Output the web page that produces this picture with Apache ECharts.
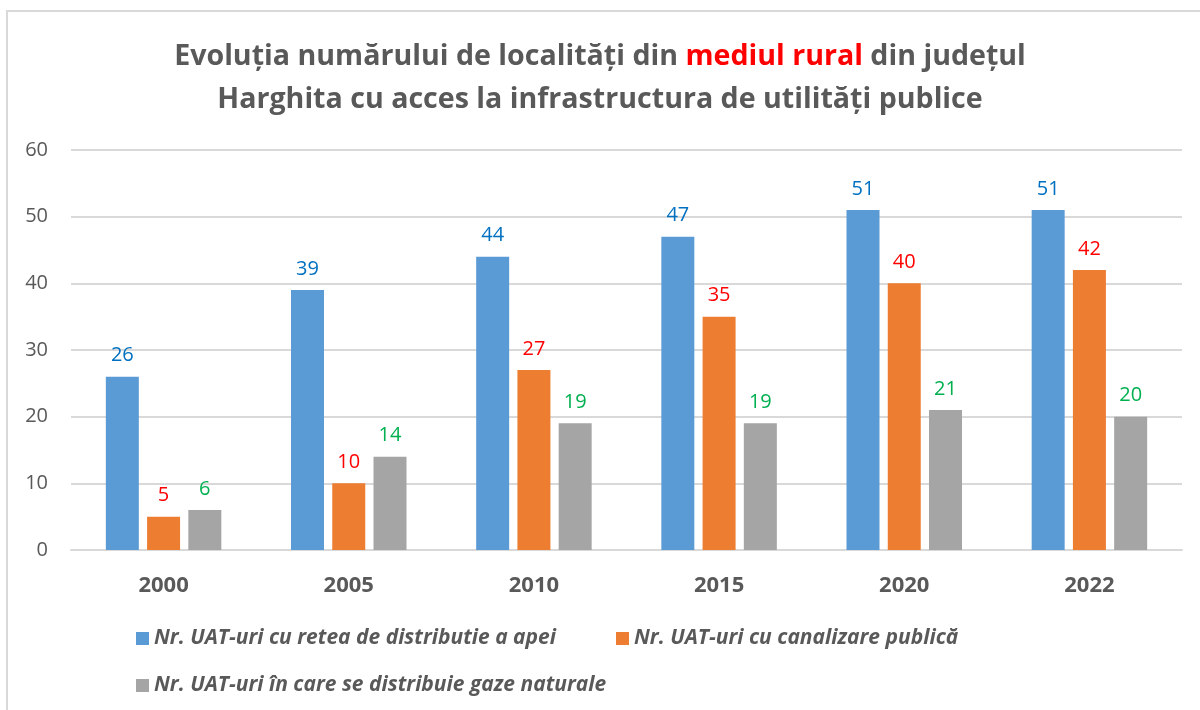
<!DOCTYPE html>
<html>
<head>
<meta charset="utf-8">
<script src="https://cdn.jsdelivr.net/npm/echarts@6/dist/echarts.min.js"></script>
<style>
  html, body { margin: 0; padding: 0; background: #fff; }
  #chart { width: 1200px; height: 710px; }
</style>
</head>
<body>
<div id="chart"></div>
<script>
var years = ['2000', '2005', '2010', '2015', '2020', '2022'];
var seriesNames = [
    'Nr. UAT-uri cu retea de distributie a apei',
    'Nr. UAT-uri cu canalizare publică',
    'Nr. UAT-uri în care se distribuie gaze naturale'
];
var apa = [26, 39, 44, 47, 51, 51];
var canalizare = [5, 10, 27, 35, 40, 42];
var gaze = [6, 14, 19, 19, 21, 20];
var yTicks = { min: 0, max: 60, interval: 10 };

var barColors = ['#5b9bd5', '#ed7d31', '#a5a5a5'];
var labelColors = ['#0070c0', '#ff0000', '#00b050'];
var font = '"Open Sans", sans-serif';

function makeBar(i, values) {
    return {
        name: seriesNames[i],
        type: 'bar',
        data: values,
        barWidth: 33,
        barGap: '25%',
        itemStyle: { color: barColors[i] },
        label: {
            show: true,
            position: 'top',
            distance: 11,
            color: labelColors[i],
            fontSize: 20,
            fontFamily: font
        }
    };
}

var legendText = { fontSize: 21, fontStyle: 'italic', fontWeight: 'bold', color: '#595959', fontFamily: font };

var chart = echarts.init(document.getElementById('chart'));
chart.setOption({
    animation: false,
    backgroundColor: '#fff',
    graphic: [{
        type: 'rect',
        shape: { x: 7, y: 11, width: 1300, height: 800 },
        style: { fill: 'none', stroke: '#d9d9d9', lineWidth: 2 },
        silent: true
    }],
    title: {
        left: 'center',
        top: 30,
        padding: [5, 5, 5, 21],
        text: '{a|Evoluția numărului de localități din }{r|mediul rural}{a| din județul}\n{a|Harghita cu acces la infrastructura de utilități publice}',
        textStyle: {
            rich: {
                a: { fontSize: 28.6, fontWeight: 'bold', color: '#595959', fontFamily: font, lineHeight: 43 },
                r: { fontSize: 28.6, fontWeight: 'bold', color: '#ff0000', fontFamily: font, lineHeight: 43 }
            }
        }
    },
    legend: [{
        data: [seriesNames[0], seriesNames[1]],
        left: 131,
        top: 623,
        orient: 'horizontal',
        itemWidth: 13,
        itemHeight: 13,
        itemGap: 60,
        itemStyle: { borderWidth: 0 },
        icon: 'rect',
        textStyle: legendText
    }, {
        data: [seriesNames[2]],
        left: 131,
        top: 670,
        itemWidth: 13,
        itemHeight: 13,
        icon: 'rect',
        textStyle: legendText
    }],
    grid: { left: 71, right: 18, top: 150, bottom: 160 },
    xAxis: {
        type: 'category',
        data: years,
        axisLine: { lineStyle: { color: '#d9d9d9', width: 2 } },
        axisTick: { show: false },
        axisLabel: { color: '#595959', fontSize: 22, fontWeight: 'bold', margin: 25, fontFamily: font }
    },
    yAxis: {
        type: 'value',
        min: yTicks.min,
        max: yTicks.max,
        interval: yTicks.interval,
        axisLine: { show: false },
        axisTick: { show: false },
        splitLine: { lineStyle: { color: '#d9d9d9', width: 2 } },
        axisLabel: { color: '#595959', fontSize: 20, margin: 23, fontFamily: font }
    },
    series: [makeBar(0, apa), makeBar(1, canalizare), makeBar(2, gaze)]
});
</script>
</body>
</html>
